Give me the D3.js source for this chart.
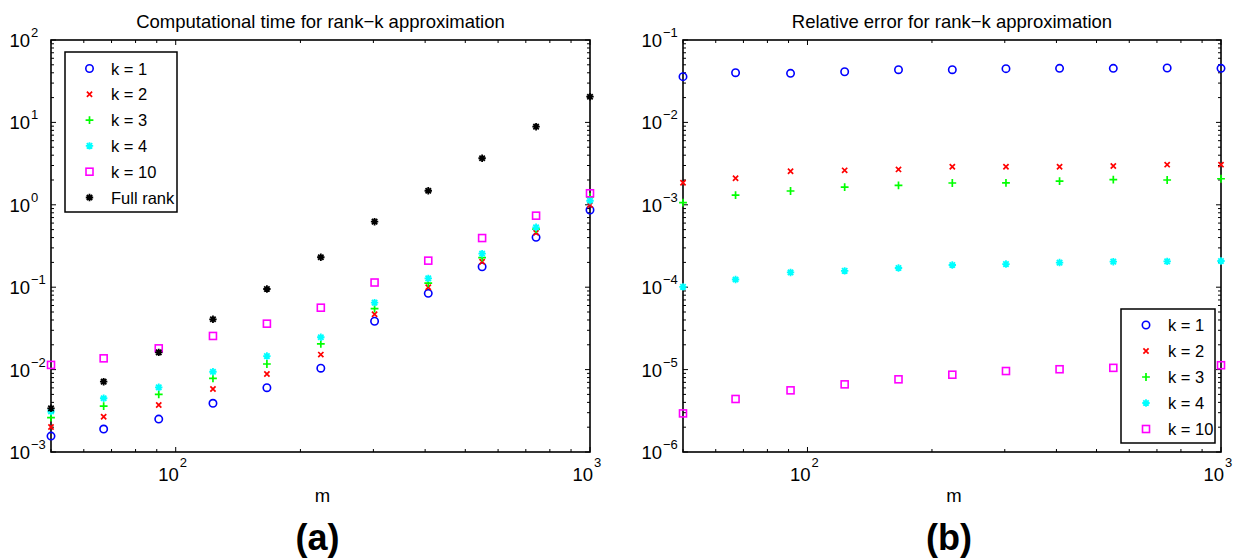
<!DOCTYPE html>
<html>
<head>
<meta charset="utf-8">
<script src="https://cdn.jsdelivr.net/npm/d3@7"></script>
<style>
  html, body { margin: 0; padding: 0; background: #fff; }
  svg { display: block; font-family: "Liberation Sans", Arial, Helvetica, sans-serif; }
</style>
</head>
<body>
<svg id="chart" width="1244" height="560"></svg>
<script>
// ---------------- data ----------------
const mValues = [50, 67, 91, 123, 166, 224, 302, 407, 549, 741, 1000];

const seriesNames = ["k = 1", "k = 2", "k = 3", "k = 4", "k = 10", "Full rank"];

const timeK1   = [0.00156, 0.00190, 0.00251, 0.00390, 0.00603, 0.0104, 0.0386, 0.0843, 0.177, 0.403, 0.865];
const timeK2   = [0.00201, 0.00268, 0.00372, 0.00582, 0.00885, 0.0152, 0.0469, 0.100, 0.204, 0.458, 0.995];
const timeK3   = [0.00261, 0.00361, 0.00501, 0.00784, 0.0117, 0.0205, 0.0548, 0.112, 0.228, 0.508, 1.25];
const timeK4   = [0.00310, 0.00449, 0.00610, 0.00942, 0.0146, 0.0247, 0.0649, 0.128, 0.255, 0.533, 1.12];
const timeK10  = [0.0114, 0.0137, 0.0181, 0.0256, 0.0361, 0.0564, 0.114, 0.210, 0.395, 0.738, 1.38];
const timeFull = [0.00339, 0.00713, 0.0162, 0.0408, 0.0951, 0.231, 0.624, 1.48, 3.67, 8.87, 20.5];

const errK1  = [0.0359, 0.0401, 0.0394, 0.0412, 0.0436, 0.0436, 0.0449, 0.0453, 0.0453, 0.0457, 0.0453];
const errK2  = [0.00185, 0.00210, 0.00255, 0.00262, 0.00269, 0.00290, 0.00290, 0.00290, 0.00296, 0.00307, 0.00307];
const errK3  = [0.00106, 0.00131, 0.00147, 0.00164, 0.00172, 0.00184, 0.00185, 0.00194, 0.00202, 0.00200, 0.00207];
const errK4  = [1.01e-4, 1.24e-4, 1.51e-4, 1.58e-4, 1.71e-4, 1.86e-4, 1.91e-4, 1.99e-4, 2.04e-4, 2.06e-4, 2.08e-4];
const errK10 = [2.94e-6, 4.40e-6, 5.60e-6, 6.62e-6, 7.62e-6, 8.67e-6, 9.61e-6, 1.01e-5, 1.05e-5, 1.08e-5, 1.13e-5];

const xDomain = [50, 1000];
const yDomainTime = [1e-3, 1e2];
const yDomainErr = [1e-6, 1e-1];

const titles = ["Computational time for rank\u2212k approximation", "Relative error for rank\u2212k approximation"];
const xLabel = "m";
const panelLabels = ["(a)", "(b)"];

// ---------------- styles ----------------
const markerStyles = {
  "k = 1":     { shape: "circle",  color: "#0000ff" },
  "k = 2":     { shape: "x",       color: "#ff0000" },
  "k = 3":     { shape: "plus",    color: "#00ff00" },
  "k = 4":     { shape: "star",    color: "#00ffff" },
  "k = 10":    { shape: "square",  color: "#ff00ff" },
  "Full rank": { shape: "star",    color: "#000000" }
};

const svg = d3.select("#chart");

function drawMarker(g, shape, color, x, y) {
  const sw = 1.6;
  if (shape === "circle") {
    g.append("circle").attr("cx", x).attr("cy", y).attr("r", 3.7)
      .attr("fill", "none").attr("stroke", color).attr("stroke-width", sw);
  } else if (shape === "square") {
    const s = 3.5;
    g.append("rect").attr("x", x - s).attr("y", y - s).attr("width", 2 * s).attr("height", 2 * s)
      .attr("fill", "none").attr("stroke", color).attr("stroke-width", sw);
  } else if (shape === "x") {
    const s = 2.6;
    g.append("path").attr("d", `M${x - s},${y - s}L${x + s},${y + s}M${x - s},${y + s}L${x + s},${y - s}`)
      .attr("stroke", color).attr("stroke-width", 1.7).attr("fill", "none");
  } else if (shape === "plus") {
    const s = 3.9;
    g.append("path").attr("d", `M${x - s},${y}L${x + s},${y}M${x},${y - s}L${x},${y + s}`)
      .attr("stroke", color).attr("stroke-width", 1.7).attr("fill", "none");
  } else if (shape === "star") {
    const s = 3.7, d = 2.7;
    g.append("path").attr("d",
      `M${x - s},${y}L${x + s},${y}M${x},${y - s}L${x},${y + s}` +
      `M${x - d},${y - d}L${x + d},${y + d}M${x - d},${y + d}L${x + d},${y - d}`)
      .attr("stroke", color).attr("stroke-width", 1.8).attr("fill", "none");
  }
}

function drawPanel(opts) {
  const { left, right, top, bottom, yDomain, series, title, panelLabel, legend } = opts;
  const g = svg.append("g");
  const x = d3.scaleLog().domain(xDomain).range([left, right]);
  const y = d3.scaleLog().domain(yDomain).range([bottom, top]);
  const isMajor = t => Math.abs(Math.log10(t) - Math.round(Math.log10(t))) < 1e-9;

  // minor & major ticks (inside, all 4 sides)
  const majorLen = 5, minorLen = 3;
  const ticksG = g.append("g").attr("stroke", "#000").attr("stroke-width", 1);
  x.ticks().forEach(t => {
    const L = isMajor(t) ? majorLen : minorLen;
    const px = x(t);
    ticksG.append("line").attr("x1", px).attr("x2", px).attr("y1", bottom).attr("y2", bottom - L);
    ticksG.append("line").attr("x1", px).attr("x2", px).attr("y1", top).attr("y2", top + L);
  });
  y.ticks().forEach(t => {
    const L = isMajor(t) ? majorLen : minorLen;
    const py = y(t);
    ticksG.append("line").attr("y1", py).attr("y2", py).attr("x1", left).attr("x2", left + L);
    ticksG.append("line").attr("y1", py).attr("y2", py).attr("x1", right).attr("x2", right - L);
  });

  // axis box
  g.append("rect").attr("x", left).attr("y", top).attr("width", right - left).attr("height", bottom - top)
    .attr("fill", "none").attr("stroke", "#000").attr("stroke-width", 1.6);

  // y tick labels
  y.ticks().filter(isMajor).forEach(t => {
    const e = Math.round(Math.log10(t));
    const py = y(t);
    g.append("text").attr("x", left - 21).attr("y", py + 7).attr("text-anchor", "end")
      .attr("font-size", 18.5).text("10");
    g.append("text").attr("x", left - 20).attr("y", py - 3).attr("text-anchor", "start")
      .attr("font-size", 13).text(e < 0 ? "\u2212" + (-e) : String(e));
  });
  // x tick labels
  x.ticks().filter(isMajor).forEach(t => {
    const e = Math.round(Math.log10(t));
    const px = x(t);
    g.append("text").attr("x", px + 3).attr("y", 481).attr("text-anchor", "end")
      .attr("font-size", 18.5).text("10");
    g.append("text").attr("x", px + 4).attr("y", 467).attr("text-anchor", "start")
      .attr("font-size", 13).text(String(e));
  });

  // title, x label, panel label
  const cx = (left + right) / 2;
  g.append("text").attr("x", cx).attr("y", 28).attr("text-anchor", "middle").attr("font-size", 18.5).text(title);
  g.append("text").attr("x", cx + 2).attr("y", 502).attr("text-anchor", "middle").attr("font-size", 18.5).text(xLabel);
  g.append("text").attr("x", cx - 3).attr("y", 550).attr("text-anchor", "middle")
    .attr("font-size", 36).attr("font-weight", "bold").text(panelLabel);

  // data
  series.forEach(s => {
    const st = markerStyles[s.name];
    const sg = g.append("g");
    s.values.forEach((v, i) => drawMarker(sg, st.shape, st.color, x(mValues[i]), y(v)));
  });

  // legend
  const lg = g.append("g");
  lg.append("rect").attr("x", legend.x).attr("y", legend.y).attr("width", legend.w).attr("height", legend.h)
    .attr("fill", "#fff").attr("stroke", "#000").attr("stroke-width", 1.5);
  series.forEach((s, i) => {
    const st = markerStyles[s.name];
    const ry = legend.y + legend.first + i * legend.step;
    drawMarker(lg, st.shape, st.color, legend.x + legend.mx, ry);
    lg.append("text").attr("x", legend.x + legend.tx).attr("y", ry + 6).attr("font-size", 16.5).text(s.name);
  });
}

drawPanel({
  left: 51, right: 590, top: 40, bottom: 452,
  yDomain: yDomainTime,
  series: [
    { name: seriesNames[0], values: timeK1 },
    { name: seriesNames[1], values: timeK2 },
    { name: seriesNames[2], values: timeK3 },
    { name: seriesNames[3], values: timeK4 },
    { name: seriesNames[4], values: timeK10 },
    { name: seriesNames[5], values: timeFull }
  ],
  title: titles[0], panelLabel: panelLabels[0],
  legend: { x: 65, y: 52, w: 112, h: 160, first: 16.5, step: 25.8, mx: 24.5, tx: 46 }
});

drawPanel({
  left: 683, right: 1221, top: 40, bottom: 452,
  yDomain: yDomainErr,
  series: [
    { name: seriesNames[0], values: errK1 },
    { name: seriesNames[1], values: errK2 },
    { name: seriesNames[2], values: errK3 },
    { name: seriesNames[3], values: errK4 },
    { name: seriesNames[4], values: errK10 }
  ],
  title: titles[1], panelLabel: panelLabels[1],
  legend: { x: 1121, y: 309, w: 94, h: 134, first: 16, step: 26, mx: 25, tx: 47 }
});
</script>
</body>
</html>
